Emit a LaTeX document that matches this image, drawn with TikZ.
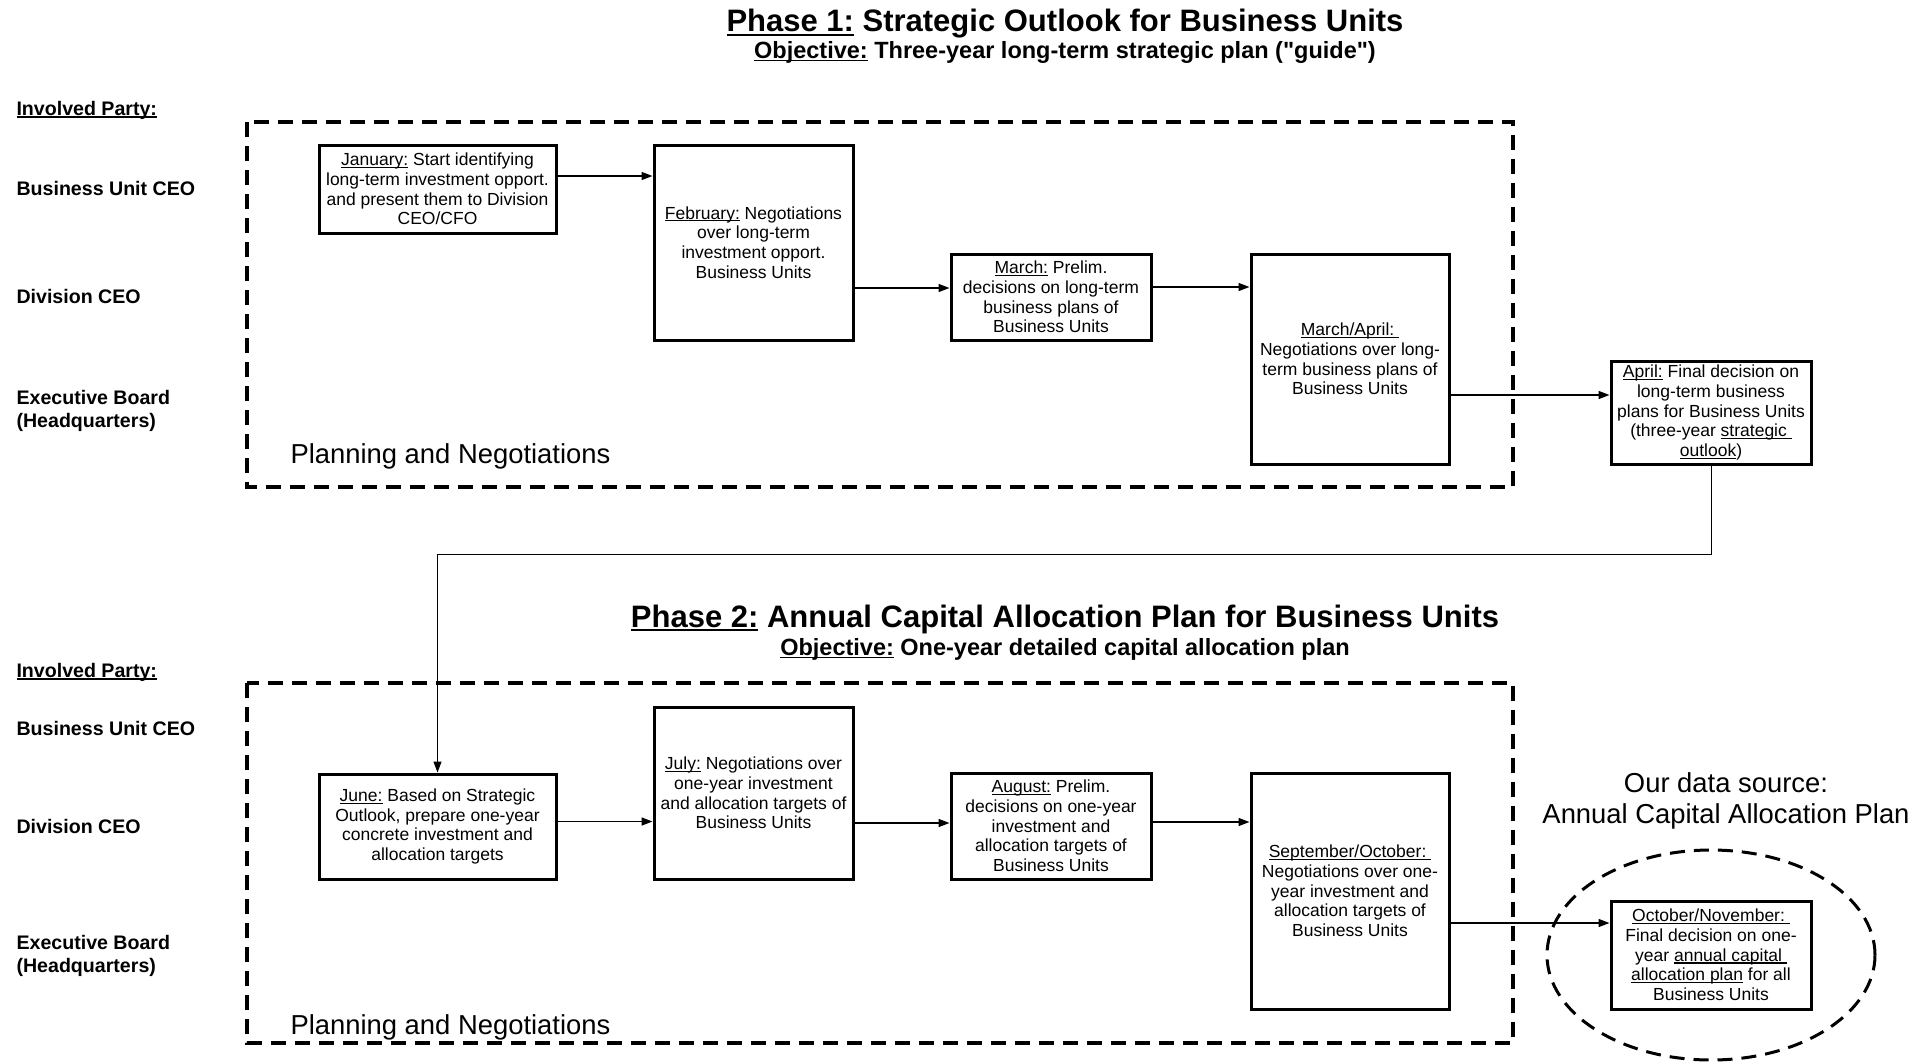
\documentclass[tikz,border=0pt]{standalone}
\usepackage{fontspec}
\setmainfont{Liberation Sans}[Ligatures=TeXOff]
\usetikzlibrary{arrows.meta}
% underline close to the baseline
\newcommand{\mon}[1]{\setbox0\hbox{#1}\rlap{\rule[-0.13em]{\wd0}{0.065em}}\box0\relax}

\begin{document}
\begin{tikzpicture}[x=1pt,y=-1pt,
    stagebox/.style={draw,line width=3pt,align=center,inner sep=0pt,
        font=\fontsize{17.5}{19.7}\selectfont},
    phaseframe/.style={line width=3.5pt,dash pattern=on 15pt off 9pt},
    partylabel/.style={anchor=west,font=\bfseries\fontsize{19.6}{23}\selectfont,align=left},
    flow/.style={line width=1.5pt,-{Triangle[length=11pt,width=8pt]}},
    thinflow/.style={line width=1pt,-{Triangle[length=11pt,width=8pt]}}]
    \useasboundingbox [fill=white] (0,0) rectangle (1930,1061);
    % phase 1
    \node (title1) at (1065,24) {\bfseries\fontsize{31}{34}\selectfont\mon{Phase 1:} Strategic Outlook for Business Units};
    \node (goal1) at (1065,52) {\bfseries\fontsize{23.5}{26}\selectfont\mon{Objective:} Three-year long-term strategic plan ("guide")};
    \node [partylabel] (party1) at (13,110) {\mon{Involved Party:}};
    \node [partylabel] (buceo1) at (13,188) {Business Unit CEO};
    \node [partylabel] (divceo1) at (13,296) {Division CEO};
    \node [partylabel] (board1) at (13,411) {Executive Board\\(Headquarters)};
    \draw [phaseframe] (247,122) rectangle (1513,487);
    \node [anchor=west,font=\fontsize{27.4}{31}\selectfont] (plan1) at (287,456) {Planning and Negotiations};
    \node [stagebox,minimum width=237pt,minimum height=88pt] (jan) at (437.5,189)
        {\mon{January:} Start identifying\\long-term investment opport.\\and present them to Division\\CEO/CFO};
    \node [stagebox,minimum width=199pt,minimum height=195pt] (feb) at (753.5,242.5)
        {\mon{February:} Negotiations\\over long-term\\investment opport.\\Business Units};
    \node [stagebox,minimum width=200pt,minimum height=86pt] (mar) at (1051,297)
        {\mon{March:} Prelim.\\decisions on long-term\\business plans of\\Business Units};
    \node [stagebox,minimum width=198pt,minimum height=210pt] (marapr) at (1350,359)
        {\mon{March/April:\ }\\Negotiations over long-\\term business plans of\\Business Units};
    \node [stagebox,minimum width=200pt,minimum height=103pt] (apr) at (1711,412.5)
        {\mon{April:} Final decision on\\long-term business\\plans for Business Units\\(three-year \mon{strategic\ }\\\mon{outlook})};
    \draw [flow] ([yshift=13pt]jan.east) -- ([yshift=13pt]jan.east -| feb.west);
    \draw [flow] ([yshift=9pt]mar.west -| feb.east) -- ([yshift=9pt]mar.west);
    \draw [flow] ([yshift=10pt]mar.east) -- ([yshift=10pt]mar.east -| marapr.west);
    \draw [flow] ([yshift=-36pt]marapr.east) -- ([yshift=-36pt]marapr.east -| apr.west);
    % link to phase 2
    \coordinate (bend) at (437.5,554);
    % phase 2
    \node (title2) at (1065,619) {\bfseries\fontsize{31}{34}\selectfont\mon{Phase 2:} Annual Capital Allocation Plan for Business Units};
    \node (goal2) at (1065,649) {\bfseries\fontsize{23.5}{26}\selectfont\mon{Objective:} One-year detailed capital allocation plan};
    \node [partylabel] (party2) at (13,672) {\mon{Involved Party:}};
    \node [partylabel] (buceo2) at (13,728) {Business Unit CEO};
    \node [partylabel] (divceo2) at (13,826) {Division CEO};
    \node [partylabel] (board2) at (13,956) {Executive Board\\(Headquarters)};
    \draw [phaseframe] (247,683) rectangle (1513,1043);
    \node [anchor=west,font=\fontsize{27.4}{31}\selectfont] (plan2) at (287,1027) {Planning and Negotiations};
    \node [stagebox,minimum width=237pt,minimum height=105pt] (jun) at (437.5,826.5)
        {\mon{June:} Based on Strategic\\Outlook, prepare one-year\\concrete investment and\\allocation targets};
    \node [stagebox,minimum width=199pt,minimum height=172pt] (jul) at (753.5,793)
        {\mon{July:} Negotiations over\\one-year investment\\and allocation targets of\\Business Units};
    \node [stagebox,minimum width=200pt,minimum height=106pt] (aug) at (1051,826)
        {\mon{August:} Prelim.\\decisions on one-year\\investment and\\allocation targets of\\Business Units};
    \node [stagebox,minimum width=198pt,minimum height=236pt] (sepoct) at (1350,891)
        {\mon{September/October:\ }\\Negotiations over one-\\year investment and\\allocation targets of\\Business Units};
    \node [stagebox,minimum width=200pt,minimum height=108pt] (octnov) at (1711,955)
        {\mon{October/November:\ }\\Final decision on one-\\year \mon{annual capital\ }\\\mon{allocation plan} for all\\Business Units};
    \draw [line width=3pt,dash pattern=on 15pt off 9pt] (octnov) ellipse [x radius=164pt,y radius=105pt];
    \node [align=center,font=\fontsize{27.4}{31}\selectfont] (source) at (1726,801) {Our data source:\\Annual Capital Allocation Plan};
    \draw [thinflow] (apr.south) |- (bend) -- (jun.north);
    \draw [flow] ([yshift=5pt]jun.east) -- ([yshift=5pt]jun.east -| jul.west);
    \draw [flow] ([yshift=3pt]aug.west -| jul.east) -- ([yshift=3pt]aug.west);
    \draw [flow] ([yshift=4pt]aug.east) -- ([yshift=4pt]aug.east -| sepoct.west);
    \draw [flow] ([yshift=32pt]octnov.west -| sepoct.east) -- ([yshift=32pt]octnov.west);
\end{tikzpicture}
\end{document}
